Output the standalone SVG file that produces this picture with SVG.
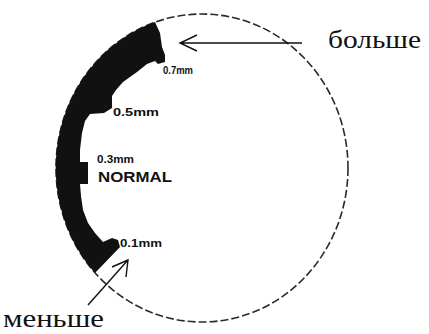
<svg xmlns="http://www.w3.org/2000/svg" width="429" height="334" viewBox="0 0 429 334">
<style>
.ring{fill:none;stroke:#2a2a2a;stroke-width:1.6;stroke-dasharray:8 3}
.band{fill:#111;stroke:none}
.tick{font-family:"Liberation Sans",Arial,sans-serif;font-weight:bold;fill:#111}
.lbl{font-family:"Liberation Serif","Times New Roman",serif;font-size:25px;fill:#111}
.arr{fill:none;stroke:#111;stroke-width:1.4}
</style>
<rect width="429" height="334" fill="#fff"/>
<g id="dial">
<ellipse class="ring" cx="202" cy="168" rx="146" ry="154"/>
<path class="band" d="M155,22 A146,154 0 0 0 95,273 L120,247 L118,240 L112,238 L103,242 L95,233 L88,223 L83,210 L81,196 L80,184 L88,184 L88,162 L80,162 L80,150 L82,133 L85,121 L90,114 L104,113 L112,108 L112,96 L116,90 L123,82 L137,72 L147,64 L155,61 L158,64 L165,62 L165,55 L162,47 L160,33 Z"/>
</g>
<g id="ticks">
<text class="tick" x="163" y="74" font-size="10" textLength="30" lengthAdjust="spacingAndGlyphs">0.7mm</text>
<text class="tick" x="113" y="116" font-size="11" textLength="46" lengthAdjust="spacingAndGlyphs">0.5mm</text>
<text class="tick" x="97" y="163" font-size="10" textLength="37" lengthAdjust="spacingAndGlyphs">0.3mm</text>
<text class="tick" x="98" y="182" font-size="15" textLength="74" lengthAdjust="spacingAndGlyphs">NORMAL</text>
<text class="tick" x="120" y="247" font-size="10" textLength="42" lengthAdjust="spacingAndGlyphs">0.1mm</text>
</g>
<g id="connectors">
<path class="arr" d="M302,43 L180,43 M197,35 L180,43 L197,51"/>
<path class="arr" d="M88,305 L128,260 M112,267 L128,260 L126,277"/>
</g>
<g id="label-more"><text class="lbl" x="328" y="48" textLength="93" lengthAdjust="spacingAndGlyphs">больше</text></g>
<g id="label-less"><text class="lbl" x="3" y="327" textLength="101" lengthAdjust="spacingAndGlyphs">меньше</text></g>
</svg>
